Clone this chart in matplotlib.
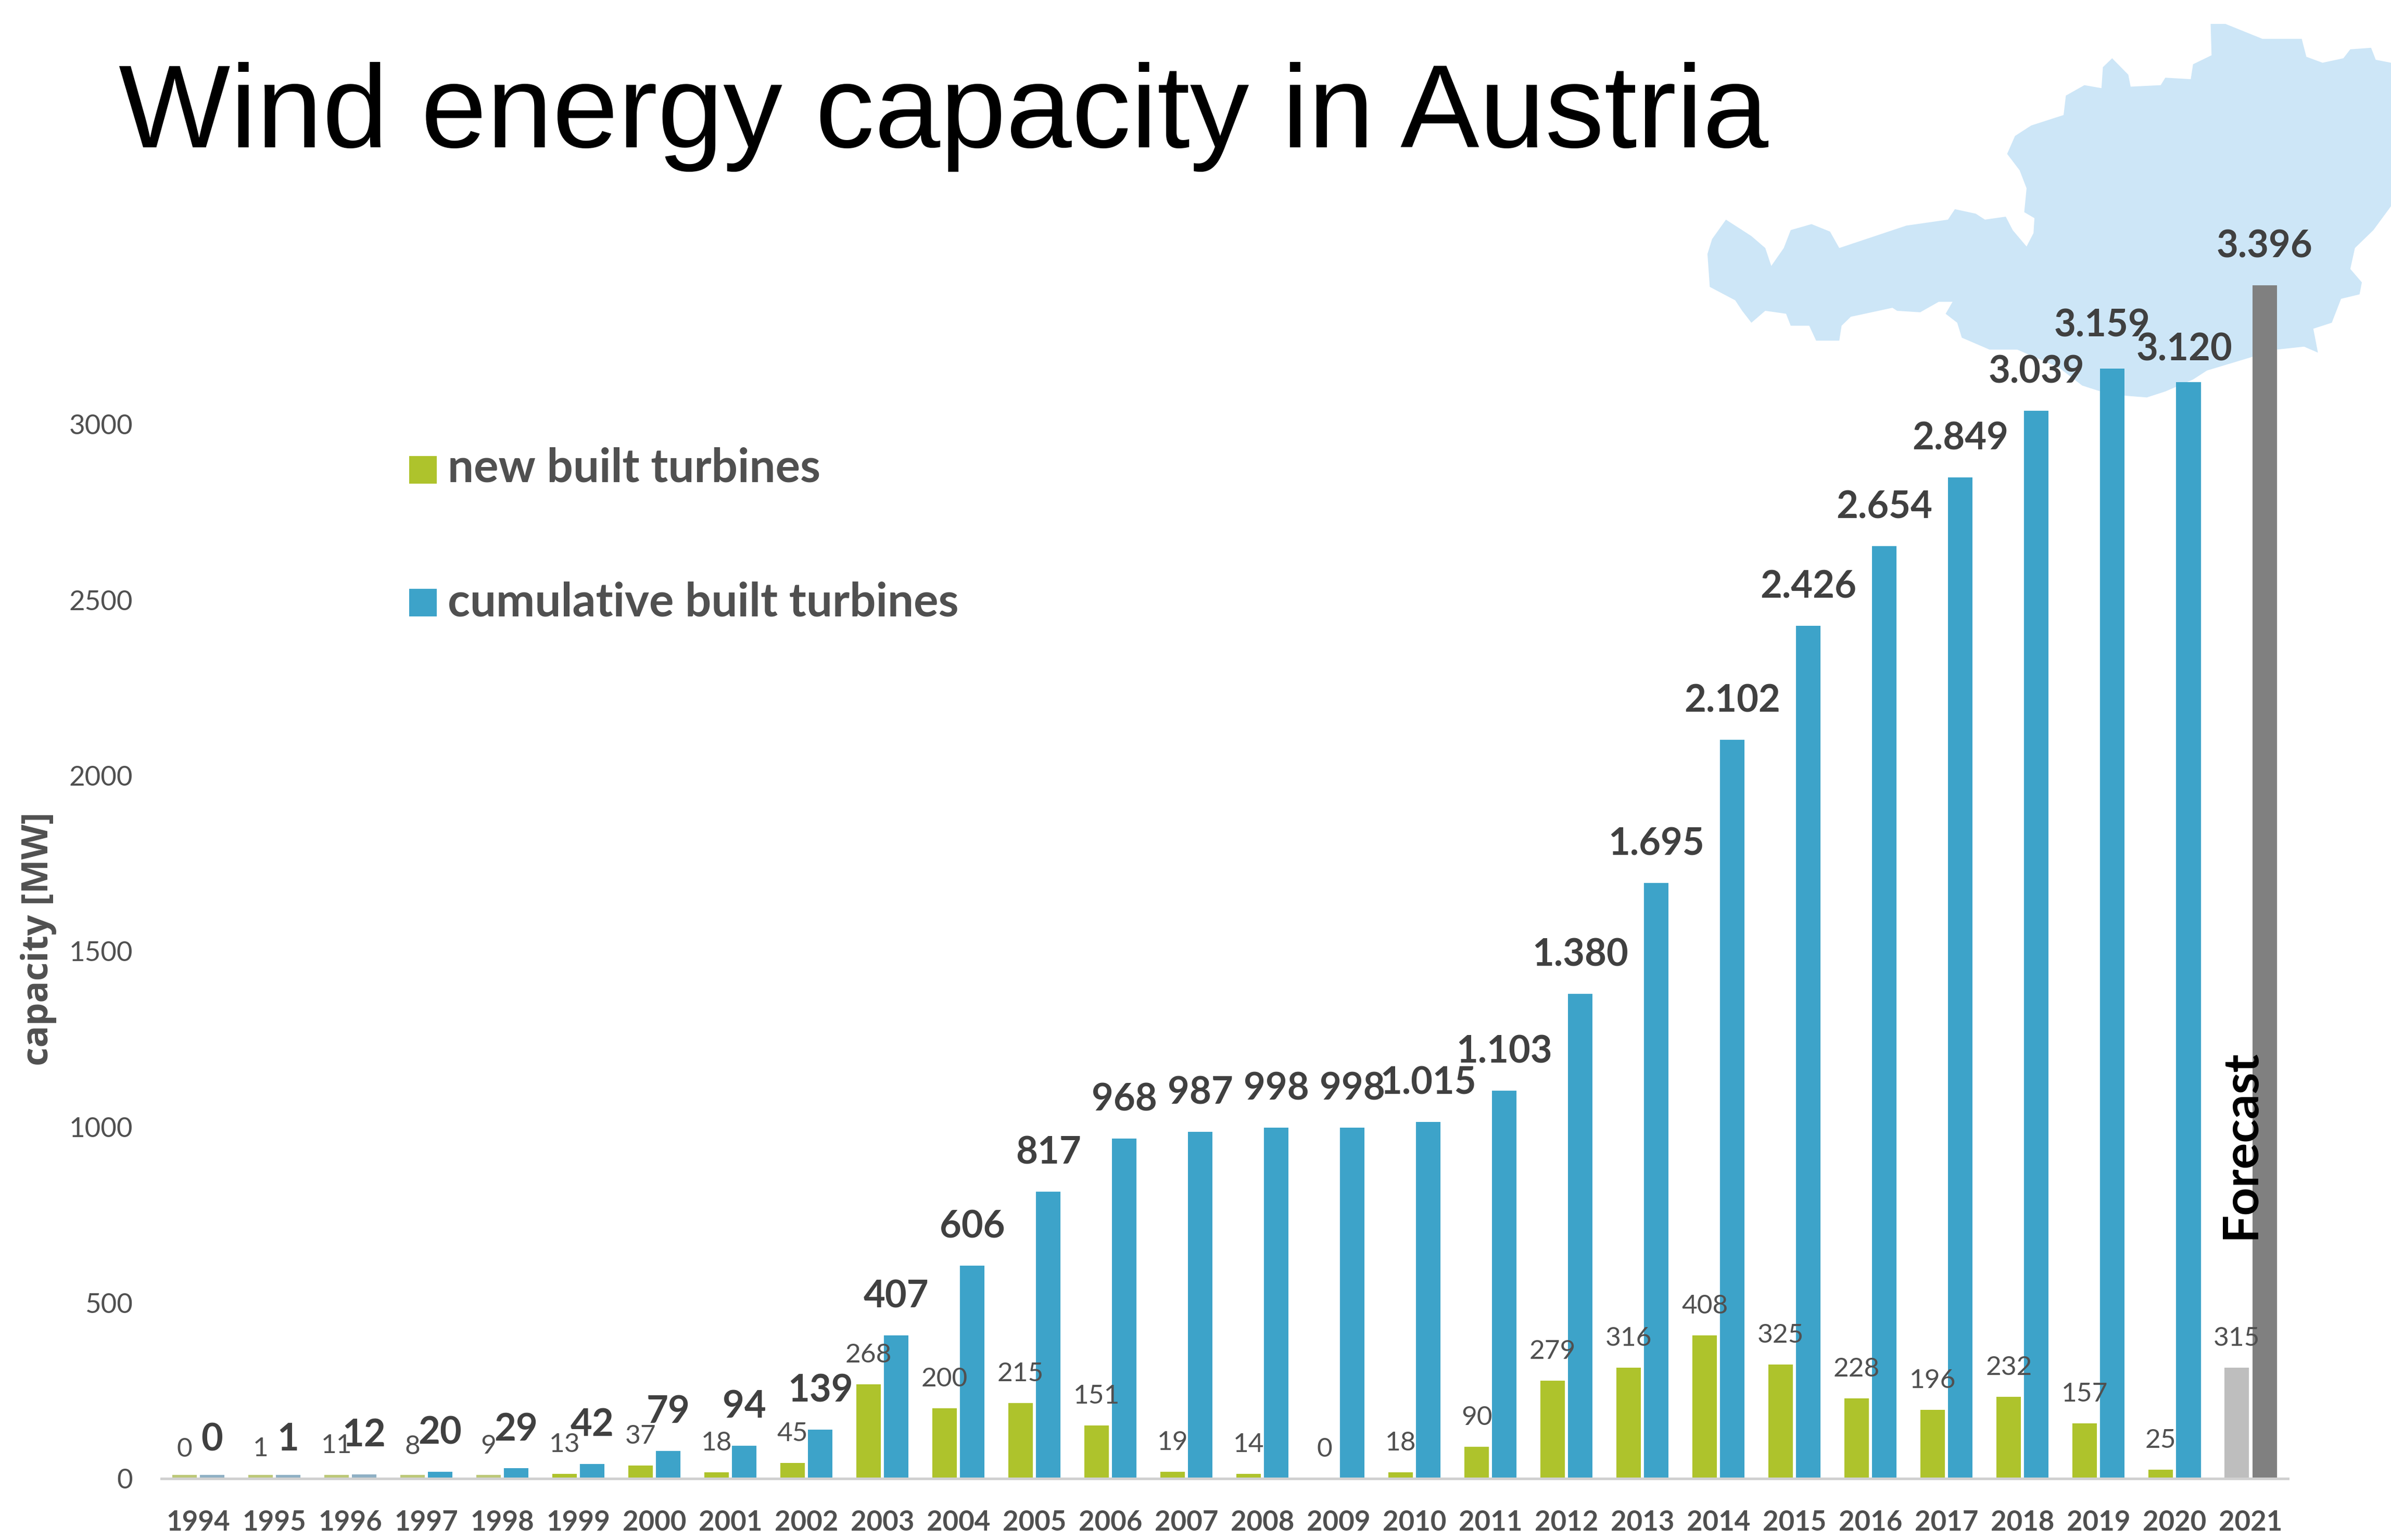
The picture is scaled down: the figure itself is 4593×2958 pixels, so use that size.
import matplotlib
matplotlib.use('Agg')
import matplotlib.pyplot as plt
import numpy as np

W, H = 4593, 2958
DPI = 100

years = list(range(1994, 2022))
new_built = [0, 1, 11, 8, 9, 13, 37, 18, 45, 268, 200, 215, 151, 19, 14, 0, 18, 90, 279, 316, 408, 325, 228, 196, 232, 157, 25, 315]
cumulative = [0, 1, 12, 20, 29, 42, 79, 94, 139, 407, 606, 817, 968, 987, 998, 998, 1015, 1103, 1380, 1695, 2102, 2426, 2654, 2849, 3039, 3159, 3120, 3396]
cumulative_labels = ['0', '1', '12', '20', '29', '42', '79', '94', '139', '407', '606', '817', '968', '987', '998', '998',
                     '1.015', '1.103', '1.380', '1.695', '2.102', '2.426', '2.654', '2.849', '3.039', '3.159', '3.120', '3.396']
# bars as they appear: tiny values were drawn with a minimum height
new_heights = [11, 11, 11, 11, 11, 13, 37, 18, 45, 268, 200, 215, 151, 19, 14, 0, 18, 90, 279, 316, 408, 325, 228, 196, 232, 157, 25, 315]
cumulative_heights = [11, 11, 12, 20, 29, 42, 79, 94, 139, 407, 606, 817, 968, 987, 998, 998, 1015, 1103, 1380, 1695, 2102, 2426, 2654, 2849, 3039, 3159, 3120, 3396]
y_ticks = [0, 500, 1000, 1500, 2000, 2500, 3000]

# outline of the Austria map behind the chart, pixels of the picture
map_outline = [
    (95, 960), (90, 850), (100, 800), (130, 735), (185, 790), (215, 830), (228, 890), (255, 830), (270, 770),
    (315, 750), (355, 775), (375, 830), (520, 755), (610, 735), (625, 700), (670, 715), (690, 735), (735, 725),
    (750, 770), (780, 825), (795, 780), (797, 730), (775, 710), (780, 630), (765, 570), (738, 515), (755, 455),
    (790, 420), (860, 385), (865, 320), (905, 285), (942, 295), (945, 225), (965, 195), (1000, 250), (1005, 290),
    (1070, 285), (1080, 260), (1135, 265), (1140, 215), (1180, 185), (1178, 80), (1210, 80), (1250, 105),
    (1290, 130), (1375, 130), (1385, 190), (1420, 210), (1465, 195), (1480, 165), (1525, 160), (1535, 200),
    (1568, 210), (1568, 690), (1530, 770), (1490, 830), (1480, 900), (1505, 945), (1500, 985), (1460, 1000),
    (1440, 1080), (1400, 1100), (1410, 1180), (1380, 1160), (1320, 1170), (1170, 1240), (1140, 1270), (1080, 1310),
    (1040, 1330), (960, 1320), (900, 1290), (850, 1230), (760, 1170), (700, 1170), (640, 1130), (630, 1080),
    (605, 1050), (620, 1010), (590, 1010), (550, 1045), (500, 1040), (490, 1030), (400, 1060), (380, 1090),
    (375, 1140), (325, 1140), (310, 1090), (270, 1090), (260, 1050), (215, 1040), (185, 1080), (165, 1040),
    (150, 1005), (95, 960),
]

GREEN = '#AEC32C'
BLUE = '#3DA3C9'
DARK_GREY = '#808080'
LIGHT_GREY = '#BEBEBE'
TEXT_DARK = '#404040'
TEXT_MID = '#505050'
px = 72 / DPI

fig = plt.figure(figsize=(W / DPI, H / DPI), dpi=DPI, facecolor='white')

# background layer in picture pixels
bg = fig.add_axes([0, 0, 1, 1])
bg.set_xlim(0, W)
bg.set_ylim(H, 0)
bg.axis('off')
outline = np.array(map_outline, dtype=float)
bg.fill(3200 + outline[:, 0] * 1393 / 1568, outline[:, 1] * 900 / 1568, color='#CDE6F7', lw=0)
bg.text(228, 224, 'Wind energy capacity in Austria', family='Liberation Sans', fontsize=163.5, color='black', va='center', ha='left')

# legend
bg.add_patch(plt.Rectangle((786, 876), 53, 53, color=GREEN, lw=0))
bg.add_patch(plt.Rectangle((786, 1131), 53, 53, color=BLUE, lw=0))
bg.text(860, 900, 'new built turbines', family='Lato', weight='bold', fontsize=64, color=TEXT_MID, va='center')
bg.text(860, 1157, 'cumulative built turbines', family='Lato', weight='bold', fontsize=64, color=TEXT_MID, va='center')
bg.text(74, 1803, 'capacity [MW]', family='Open Sans', weight='bold', fontsize=50, color=TEXT_MID, rotation=90, va='center', ha='center')

# chart layer
left, right, bottom, top = 310, 4395, 2840, 2840 - 3500 * 0.675
ax = fig.add_axes([left / W, 1 - bottom / H, (right - left) / W, (bottom - top) / H])
ax.patch.set_alpha(0)
ax.set_xlim(-0.486, 27.49)
ax.set_ylim(0, 3500)

x = np.arange(len(years))
offset = 0.182
width = 0.322
green_colors = ['#BCC878'] * 5 + [GREEN] * 22 + [LIGHT_GREY]
blue_colors = ['#8FB0C4', '#8FB0C4', '#8FB0C4'] + [BLUE] * 24 + [DARK_GREY]
ax.bar(x - offset, new_heights, width, color=green_colors, lw=0)
ax.bar(x + offset, cumulative_heights, width, color=blue_colors, lw=0)

for i in x:
    ax.annotate(str(new_built[i]), (i - offset, new_built[i]), xytext=(0, 56 * px), textcoords='offset points',
                ha='center', va='center', family='Lato', fontsize=37, color=TEXT_MID)
    dx, dy = {25: (-20, 8), 26: (-8, -12)}.get(i, (0, 0))
    ax.annotate(cumulative_labels[i], (i + offset, cumulative[i]), xytext=(dx * px, (74 + dy) * px), textcoords='offset points',
                ha='center', va='center', family='Lato', weight='bold', fontsize=52, color=TEXT_DARK)

ax.text(26.87, 951, 'Forecast', family='Lato', weight='bold', fontsize=68,
        color='black', rotation=90, ha='center', va='center')

for side in ['top', 'right', 'left']:
    ax.spines[side].set_visible(False)
ax.spines['bottom'].set_color('#D0D0D0')
ax.spines['bottom'].set_linewidth(5 * px)
ax.set_xticks(x)
ax.set_xticklabels(years, family='Lato', weight='bold', fontsize=38, color=TEXT_MID)
ax.set_yticks(y_ticks)
ax.set_yticklabels(y_ticks, family='Lato', fontsize=38, color=TEXT_MID)
ax.tick_params(axis='both', length=0)
ax.tick_params(axis='x', pad=60 * px)
ax.tick_params(axis='y', pad=55 * px)

fig.savefig('out.png', dpi=DPI)
